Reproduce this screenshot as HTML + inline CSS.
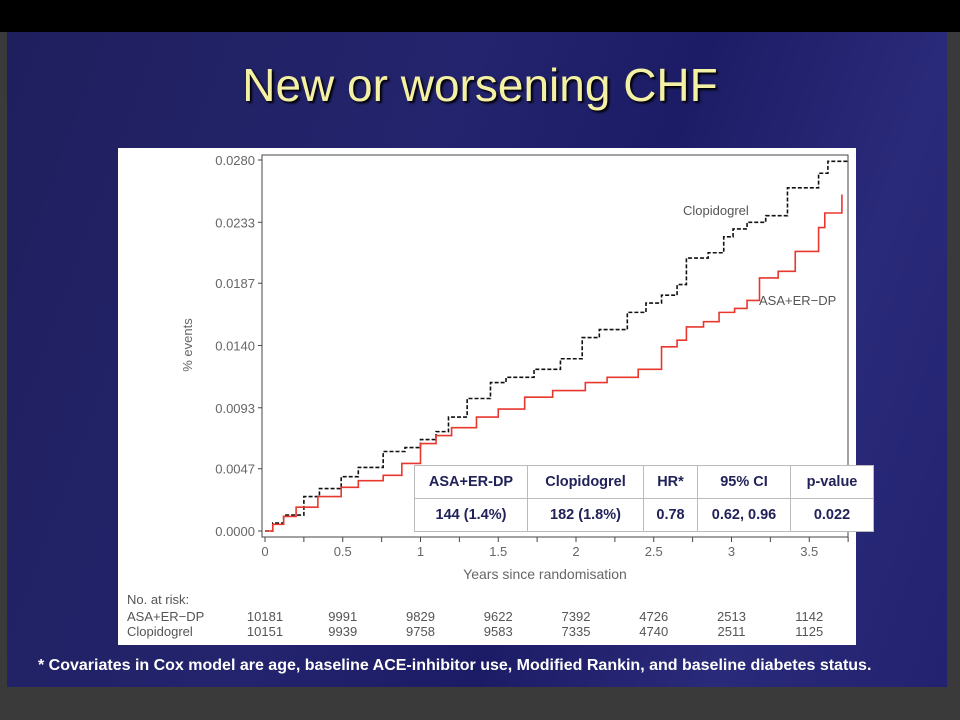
<!DOCTYPE html>
<html><head><meta charset="utf-8"><style>
body{margin:0;width:960px;height:720px;overflow:hidden;background:#3a3a3a;font-family:"Liberation Sans",sans-serif}
#top{position:absolute;left:0;top:0;width:960px;height:32px;background:#000}
#slide{position:absolute;left:7px;top:32px;width:940px;height:655px;background:linear-gradient(110deg,#1f1f5e 0%,#24246e 40%,#1c1c66 60%,#2a2a7a 80%,#222270 100%)}
#title{position:absolute;left:0;width:960px;top:58px;text-align:center;color:#f4f0a4;font-size:46px;text-shadow:2px 2px 2px #000}
#panel{position:absolute;left:118px;top:148px;width:738px;height:497px;background:#fff}
#foot{position:absolute;left:38px;top:657px;color:#fff;font-size:16px;font-weight:bold;white-space:nowrap}
table{position:absolute;left:414px;top:465px;border-collapse:collapse;background:#fff;font-weight:bold;color:#22225a;font-size:14.5px}
td{border:1px solid #bbb;text-align:center;height:32px;padding:0}
</style></head><body>
<div id="top"></div>
<div id="slide"></div>
<div id="title">New or worsening CHF</div>
<div id="panel"></div>
<svg id="chart" width="960" height="720" style="position:absolute;left:0;top:0"></svg>
<table>
<tr><td style="width:112px">ASA+ER-DP</td><td style="width:115px">Clopidogrel</td><td style="width:53px">HR*</td><td style="width:92px">95% CI</td><td style="width:82px">p-value</td></tr>
<tr><td>144 (1.4%)</td><td>182 (1.8%)</td><td>0.78</td><td>0.62, 0.96</td><td>0.022</td></tr>
</table>
<div id="foot">* Covariates in Cox model are age, baseline ACE-inhibitor use, Modified Rankin, and baseline diabetes status.</div>
<script>
const yTicks=["0.0000","0.0047","0.0093","0.0140","0.0187","0.0233","0.0280"];
const yTickVals=[0,0.0047,0.0093,0.0140,0.0187,0.0233,0.0280];
const xTicks=[0,0.5,1,1.5,2,2.5,3,3.5];
const clopT=[0,0.05,0.12,0.25,0.35,0.49,0.6,0.76,0.9,1.0,1.1,1.18,1.3,1.45,1.55,1.73,1.9,2.04,2.15,2.24,2.33,2.45,2.55,2.65,2.71,2.85,2.95,3.01,3.1,3.22,3.36,3.56,3.62,3.75];
const clopV=[0,0.0006,0.0012,0.0026,0.0032,0.0041,0.0048,0.0060,0.0063,0.0069,0.0075,0.0086,0.0100,0.0112,0.0116,0.0122,0.0130,0.0146,0.0152,0.0152,0.0165,0.0172,0.0178,0.0186,0.0206,0.0210,0.0222,0.0228,0.0233,0.0238,0.0259,0.0270,0.0279,0.0279];
const asaT=[0,0.05,0.12,0.2,0.34,0.49,0.6,0.76,0.88,1.0,1.1,1.2,1.36,1.5,1.67,1.85,2.06,2.2,2.4,2.55,2.65,2.71,2.82,2.92,3.02,3.1,3.18,3.3,3.41,3.56,3.6,3.71,3.71];
const asaV=[0,0.0005,0.0011,0.0018,0.0026,0.0033,0.0038,0.0042,0.0051,0.0066,0.0072,0.0078,0.0086,0.0092,0.0101,0.0106,0.0112,0.0116,0.0122,0.0139,0.0144,0.0154,0.0158,0.0165,0.0168,0.0174,0.0191,0.0196,0.0211,0.0229,0.0240,0.0240,0.0254];
const risk={"ASA+ER\u2212DP":[10181,9991,9829,9622,7392,4726,2513,1142],"Clopidogrel":[10151,9939,9758,9583,7335,4740,2511,1125]};
const X=t=>265+t*155.5, Y=v=>531-v/0.028*371;
const svg=document.getElementById('chart');const NS='http://www.w3.org/2000/svg';
function mk(tag,attrs,txt){const e=document.createElementNS(NS,tag);for(const k in attrs)e.setAttribute(k,attrs[k]);if(txt!==undefined)e.textContent=txt;svg.appendChild(e);return e;}
let e=mk('rect',{x:262,y:155,width:586,height:382,fill:'none',stroke:'#444','stroke-width':1});


yTickVals.forEach((v,i)=>{
 let l=mk('line',{x1:258,x2:262,y1:Y(v),y2:Y(v),stroke:'#444'});
 
 
 let t=mk('text',{x:255,y:Y(v)+5,'text-anchor':'end','font-size':13,fill:'#666'},yTicks[i]);
 
 
});
for(let t=0;t<=3.75;t+=0.25){let l=mk('line',{x1:X(t),x2:X(t),y1:537,y2:542,stroke:'#444'});
 
 }
xTicks.forEach(t=>{let s=mk('text',{x:X(t),y:556,'text-anchor':'middle','font-size':13,fill:'#666'},String(t));
 
 });
e=mk('text',{x:545,y:579,'text-anchor':'middle','font-size':14,fill:'#666'},'Years since randomisation');


e=mk('text',{x:0,y:0,'text-anchor':'middle','font-size':13,fill:'#666',transform:'translate(192,345) rotate(-90)'},'% events');


function stepPath(T,V){let d='M'+X(T[0])+','+Y(V[0]);for(let i=1;i<T.length;i++){d+=' H'+X(T[i])+' V'+Y(V[i]);}return d;}
e=mk('path',{d:stepPath(clopT,clopV),fill:'none',stroke:'#111','stroke-width':1.6,'stroke-dasharray':'4,2'});


e=mk('path',{d:stepPath(asaT,asaV),fill:'none',stroke:'#e8382e','stroke-width':1.6});


e=mk('text',{x:683,y:215,'font-size':13,fill:'#555'},'Clopidogrel');


e=mk('text',{x:759,y:305,'font-size':13,fill:'#555'},'ASA+ER\u2212DP');


e=mk('text',{x:127,y:604,'font-size':13,fill:'#555'},'No. at risk:');


Object.keys(risk).forEach((k,r)=>{
 let n=mk('text',{x:127,y:621+r*15,'font-size':13,fill:'#555'},k);
 
 
 risk[k].forEach((v,i)=>{let s=mk('text',{x:X(xTicks[i]),y:621+r*15,'text-anchor':'middle','font-size':13,fill:'#555'},String(v));
  
  });
});
</script>
</body></html>
